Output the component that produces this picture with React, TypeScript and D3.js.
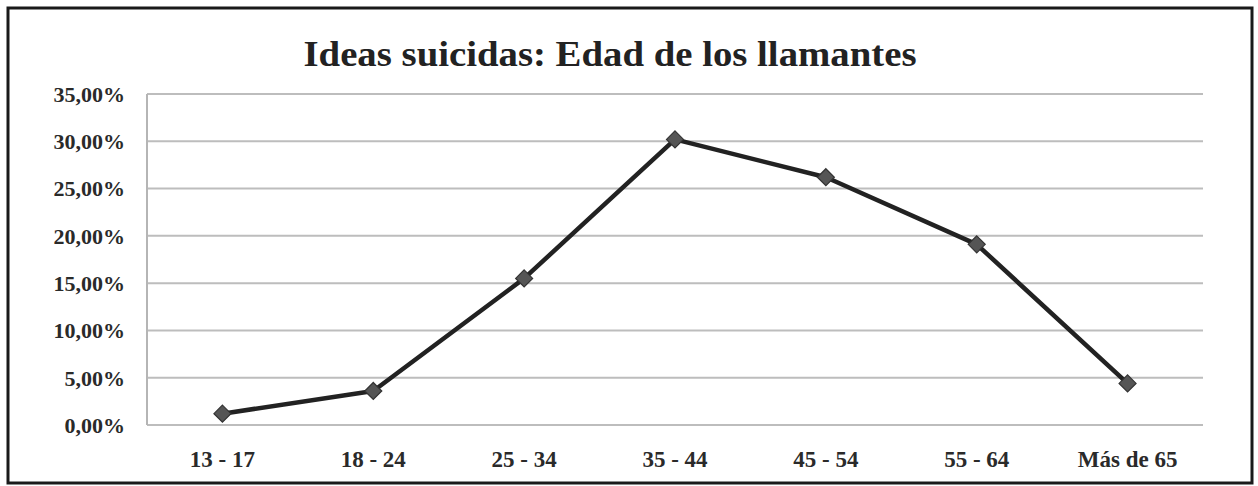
import React from "react";
import * as d3 from "d3";

const title = "Ideas suicidas: Edad de los llamantes";
const ageGroups = ["13 - 17", "18 - 24", "25 - 34", "35 - 44", "45 - 54", "55 - 64", "Más de 65"];
const percentages = [1.2, 3.6, 15.5, 30.2, 26.2, 19.1, 4.4];
const yTicks = [0, 5, 10, 15, 20, 25, 30, 35];

const W = 1258;
const H = 486;
const plot = { left: 147, right: 1203, top: 94, bottom: 425 };

export default function App() {
  const x = d3.scaleBand<string>().domain(ageGroups).range([plot.left, plot.right]);
  const y = d3.scaleLinear().domain([0, 35]).range([plot.bottom, plot.top]);
  const cx = (c: string) => (x(c) ?? 0) + x.bandwidth() / 2;

  const line = d3
    .line<number>()
    .x((_, i) => cx(ageGroups[i]))
    .y((d) => y(d));

  const fmt = (v: number) => v.toFixed(2).replace(".", ",") + "%";
  const font = "'Liberation Serif', 'DejaVu Serif', serif";

  return (
    <svg
      width={W}
      height={H}
      style={{ position: "fixed", left: 0, top: 0, background: "#fff" }}
      fontFamily={font}
    >
      <rect x={0} y={0} width={W} height={H} fill="#fff" />
      <rect x={8} y={8} width={1244} height={475} fill="none" stroke="#1a1a1a" strokeWidth={3} />

      <text
        x={610}
        y={66}
        textAnchor="middle"
        fontSize={35}
        fontWeight="bold"
        fill="#222"
        textLength={613}
        lengthAdjust="spacingAndGlyphs"
      >
        {title}
      </text>

      {yTicks.map((t) => (
        <g key={t}>
          <line
            x1={plot.left}
            x2={plot.right}
            y1={y(t)}
            y2={y(t)}
            stroke="#bdbdbd"
            strokeWidth={2}
          />
          <text
            x={125}
            y={y(t)}
            dy="0.36em"
            textAnchor="end"
            fontSize={22}
            fontWeight="bold"
            fill="#2a2a2a"
          >
            {fmt(t)}
          </text>
        </g>
      ))}
      <line x1={plot.left} x2={plot.left} y1={plot.top} y2={plot.bottom} stroke="#b5b5b5" strokeWidth={2} />

      {ageGroups.map((c) => (
        <text
          key={c}
          x={cx(c)}
          y={467}
          textAnchor="middle"
          fontSize={23}
          fontWeight="bold"
          fill="#2a2a2a"
        >
          {c}
        </text>
      ))}

      <path d={line(percentages) ?? ""} fill="none" stroke="#222" strokeWidth={4.5} strokeLinejoin="round" />

      {percentages.map((v, i) => {
        const px = cx(ageGroups[i]);
        const py = y(v);
        const r = 8.5;
        return (
          <path
            key={i}
            d={`M${px},${py - r}L${px + r},${py}L${px},${py + r}L${px - r},${py}Z`}
            fill="#555"
            stroke="#333"
            strokeWidth={1.2}
          />
        );
      })}
    </svg>
  );
}
